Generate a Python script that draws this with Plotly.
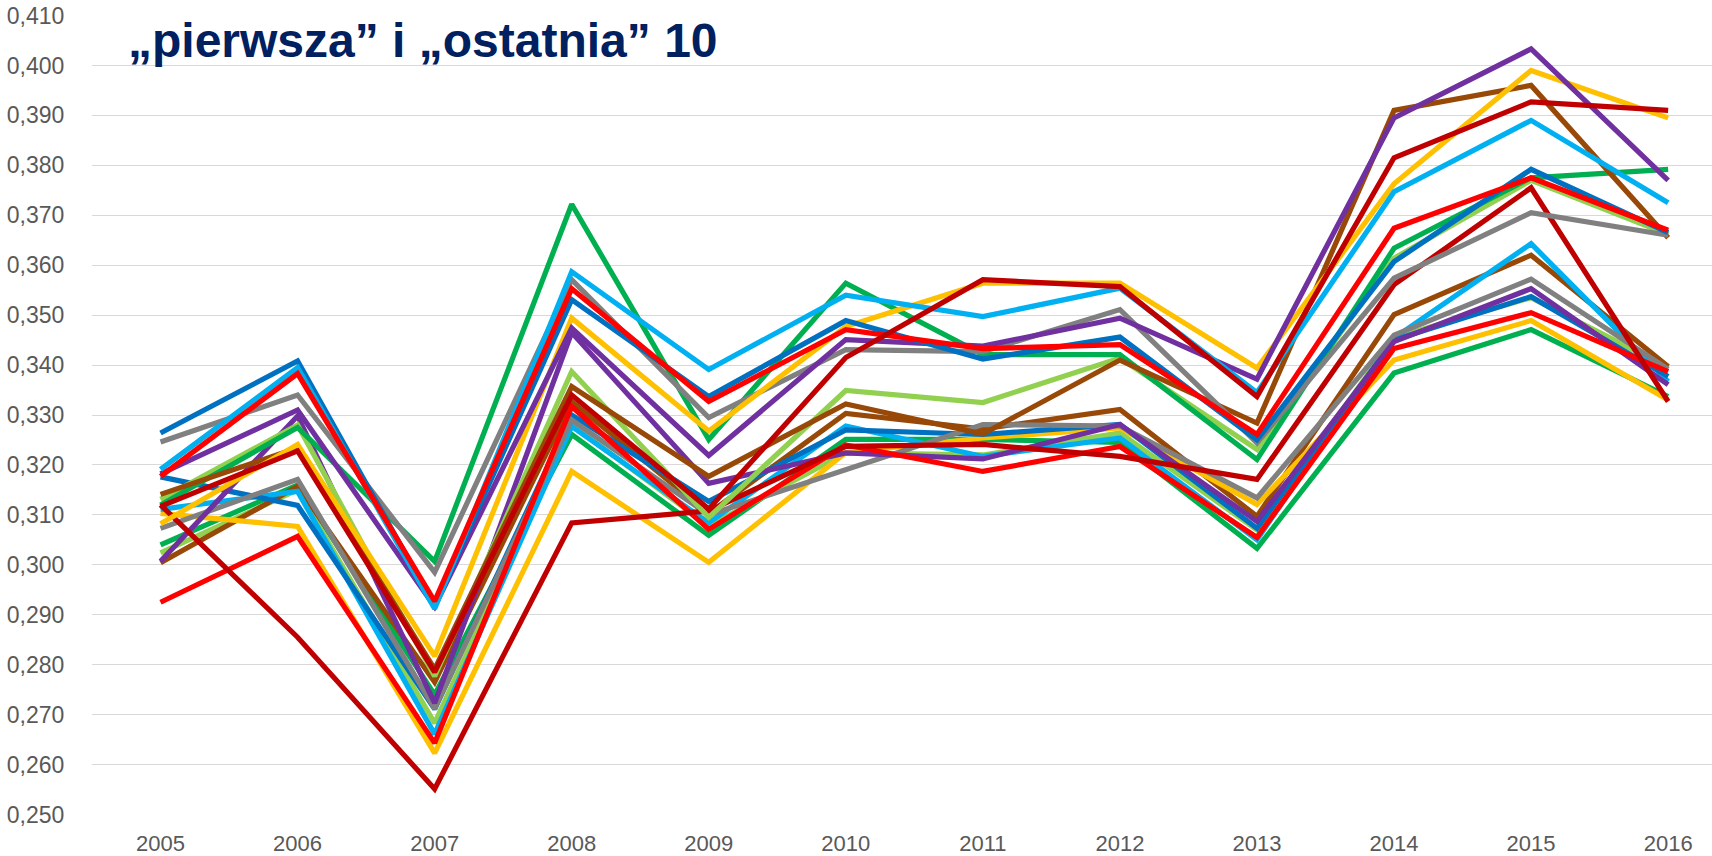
import plotly.graph_objects as go

years = [2005, 2006, 2007, 2008, 2009, 2010, 2011, 2012, 2013, 2014, 2015, 2016]
y_ticks = [0.25, 0.26, 0.27, 0.28, 0.29, 0.30, 0.31, 0.32, 0.33, 0.34, 0.35, 0.36, 0.37, 0.38, 0.39, 0.40, 0.41]
title_text = "„pierwsza” i „ostatnia” 10"

# "ostatnia" 10 (lower group at the end)
blue_b = [0.3176, 0.3119, 0.2711, 0.3300, 0.3127, 0.3270, 0.3261, 0.3281, 0.3073, 0.3450, 0.3537, 0.3377]
light_blue_b = [0.3111, 0.3147, 0.2661, 0.3277, 0.3084, 0.3278, 0.3217, 0.3254, 0.3050, 0.3454, 0.3643, 0.3367]
red_b = [0.2925, 0.3057, 0.2643, 0.3317, 0.3071, 0.3240, 0.3187, 0.3237, 0.3055, 0.3433, 0.3505, 0.3387]
gray_b = [0.3073, 0.3171, 0.2712, 0.3290, 0.3100, 0.3190, 0.3281, 0.3278, 0.3134, 0.3460, 0.3572, 0.3392]
purple_b = [0.3007, 0.3298, 0.2723, 0.3465, 0.3163, 0.3224, 0.3212, 0.3281, 0.3087, 0.3447, 0.3553, 0.3361]
green_b = [0.3040, 0.3160, 0.2740, 0.3261, 0.3059, 0.3251, 0.3251, 0.3245, 0.3033, 0.3384, 0.3471, 0.3337]
yellow_b = [0.3103, 0.3077, 0.2623, 0.3187, 0.3005, 0.3225, 0.3254, 0.3274, 0.3121, 0.3410, 0.3489, 0.3330]
dark_red_b = [0.3120, 0.2855, 0.2551, 0.3084, 0.3108, 0.3237, 0.3241, 0.3217, 0.3171, 0.3561, 0.3755, 0.3327]
brown_b = [0.3004, 0.3157, 0.2765, 0.3327, 0.3103, 0.3303, 0.3272, 0.3311, 0.3097, 0.3501, 0.3620, 0.3397]
light_green_b = [0.3024, 0.3150, 0.2683, 0.3280, 0.3078, 0.3224, 0.3220, 0.3264, 0.3070, 0.3455, 0.3535, 0.3395]

# "pierwsza" 10 (upper group at the end)
blue_a = [0.3264, 0.3408, 0.2918, 0.3531, 0.3337, 0.3489, 0.3412, 0.3456, 0.3250, 0.3607, 0.3792, 0.3665]
light_blue_a = [0.3191, 0.3395, 0.2912, 0.3587, 0.3391, 0.3540, 0.3497, 0.3554, 0.3345, 0.3747, 0.3890, 0.3725]
red_a = [0.3177, 0.3383, 0.2927, 0.3553, 0.3327, 0.3471, 0.3433, 0.3441, 0.3261, 0.3674, 0.3775, 0.3670]
gray_a = [0.3246, 0.3340, 0.2985, 0.3571, 0.3295, 0.3431, 0.3427, 0.3511, 0.3244, 0.3574, 0.3705, 0.3660]
purple_a = [0.3182, 0.3310, 0.2916, 0.3474, 0.3219, 0.3451, 0.3438, 0.3494, 0.3372, 0.3895, 0.4033, 0.3770]
green_a = [0.3120, 0.3275, 0.3007, 0.3722, 0.3251, 0.3564, 0.3421, 0.3421, 0.3211, 0.3634, 0.3775, 0.3792]
yellow_a = [0.3082, 0.3241, 0.2817, 0.3494, 0.3268, 0.3477, 0.3564, 0.3564, 0.3394, 0.3763, 0.3990, 0.3895]
dark_red_a = [0.3117, 0.3228, 0.2785, 0.3340, 0.3112, 0.3415, 0.3571, 0.3557, 0.3337, 0.3815, 0.3927, 0.3910]
brown_a = [0.3141, 0.3234, 0.2791, 0.3357, 0.3177, 0.3322, 0.3262, 0.3410, 0.3284, 0.3910, 0.3960, 0.3655]
light_green_a = [0.3131, 0.3280, 0.2777, 0.3387, 0.3095, 0.3349, 0.3325, 0.3414, 0.3231, 0.3614, 0.3770, 0.3662]

BLUE = "#0070C0"
LBLUE = "#00B0F0"
RED = "#FF0000"
GRAY = "#808080"
PURPLE = "#7030A0"
GREEN = "#00B050"
YELLOW = "#FFC000"
DRED = "#C00000"
BROWN = "#984807"
LGREEN = "#92D050"

series = [
    (green_b, GREEN), (light_green_b, LGREEN), (brown_b, BROWN), (yellow_b, YELLOW),
    (light_blue_b, LBLUE), (blue_b, BLUE), (gray_b, GRAY), (purple_b, PURPLE),
    (red_b, RED), (dark_red_b, DRED),
    (light_green_a, LGREEN), (green_a, GREEN), (brown_a, BROWN), (gray_a, GRAY),
    (yellow_a, YELLOW), (purple_a, PURPLE), (blue_a, BLUE), (light_blue_a, LBLUE),
    (red_a, RED), (dark_red_a, DRED),
]

fig = go.Figure()
for vals, col in series:
    fig.add_trace(go.Scatter(x=years, y=vals, mode="lines",
                             line=dict(color=col, width=5.2),
                             showlegend=False, hoverinfo="skip"))

fig.update_layout(
    width=1712, height=856,
    margin=dict(l=92, r=0, t=15, b=41),
    paper_bgcolor="white", plot_bgcolor="white",
    separators=", ",
    showlegend=False,
    font=dict(family="Liberation Sans, Arial, sans-serif", color="#595959", size=22),
    annotations=[dict(
        text="<b>" + title_text + "</b>",
        xref="paper", yref="paper", x=0.021, y=0.968,
        xanchor="left", yanchor="middle", showarrow=False,
        font=dict(family="Liberation Sans, Arial, sans-serif", size=48, color="#002060"),
    )],
)
fig.update_xaxes(
    range=[2004.5, 2016.32], tickvals=years, ticktext=[str(y) for y in years],
    showgrid=False, zeroline=False, showline=False,
    ticks="outside", ticklen=9, tickcolor="rgba(0,0,0,0)",
    tickfont=dict(size=22, color="#595959"), automargin=False,
)
fig.update_yaxes(
    range=[0.2499, 0.4101], tickvals=y_ticks, tickformat=".3f",
    showgrid=True, gridcolor="#D9D9D9", gridwidth=1.3,
    zeroline=False, showline=False,
    ticks="outside", ticklen=22, tickcolor="rgba(0,0,0,0)",
    tickfont=dict(size=23, color="#595959"), automargin=False,
)

fig.write_html("out.html", config={"displayModeBar": False},
               post_script="document.body.style.margin='0';document.body.style.overflow='hidden';")
